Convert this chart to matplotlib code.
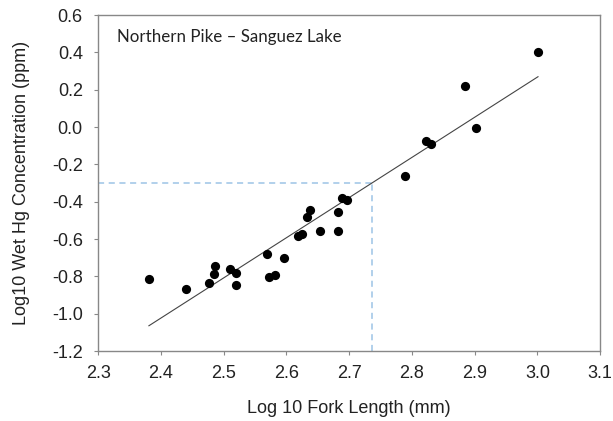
import numpy as np
import matplotlib.pyplot as plt

# Log10 fork length (mm) vs log10 wet Hg concentration (ppm), Northern Pike, Sanguez Lake
log_length = [2.381, 2.440, 2.476, 2.485, 2.486, 2.511, 2.520, 2.519, 2.569, 2.573,
              2.582, 2.597, 2.618, 2.625, 2.633, 2.637, 2.654, 2.682, 2.682, 2.688,
              2.696, 2.789, 2.823, 2.831, 2.885, 2.902, 3.001]
log_hg = [-0.816, -0.868, -0.837, -0.787, -0.746, -0.762, -0.784, -0.848, -0.682, -0.803,
          -0.793, -0.702, -0.584, -0.575, -0.482, -0.445, -0.555, -0.457, -0.555, -0.379,
          -0.391, -0.262, -0.073, -0.093, 0.220, -0.002, 0.400]

# regression line
fit_slope = 2.152
fit_intercept = -6.188
fit_range = [2.381, 3.001]

# reference level (0.5 ppm -> log10 = -0.3)
ref_y = -0.3
ref_x = (ref_y - fit_intercept) / fit_slope

xticks = [2.3, 2.4, 2.5, 2.6, 2.7, 2.8, 2.9, 3.0, 3.1]
yticks = [-1.2, -1.0, -0.8, -0.6, -0.4, -0.2, 0.0, 0.2, 0.4, 0.6]

plt.rcParams["font.family"] = ["Liberation Sans", "DejaVu Sans"]

fig = plt.figure(figsize=(6.13, 4.21), dpi=100)
ax = fig.add_axes([0.160, 0.166, 0.819, 0.798])

fx = np.array(fit_range)
ax.plot(fx, fit_slope * fx + fit_intercept, color="#444444", lw=0.8, zorder=2)

ax.plot([2.3, ref_x], [ref_y, ref_y], color="#9DC3E6", lw=1.1, ls=(0, (4, 3)), zorder=1)
ax.plot([ref_x, ref_x], [-1.2, ref_y], color="#9DC3E6", lw=1.1, ls=(0, (4, 3)), zorder=1)

ax.scatter(log_length, log_hg, s=44, color="black", zorder=3, linewidths=0)

ax.set_xlim(2.3, 3.1)
ax.set_ylim(-1.2, 0.6)
ax.set_xticks(xticks)
ax.set_yticks(yticks)
ax.set_xticklabels([f"{v:.1f}" for v in xticks])
ax.set_yticklabels([f"{v:.1f}" for v in yticks])
ax.tick_params(direction="out", length=3, width=0.8, color="#888888",
               labelsize=13, labelcolor="#222222")
ax.tick_params(axis="x", pad=7)
ax.tick_params(axis="y", pad=8)
for s in ax.spines.values():
    s.set_color("#888888")
    s.set_linewidth(1.0)

ax.set_xlabel("Log 10 Fork Length (mm)", fontsize=13, color="#222222", labelpad=13)
ax.set_ylabel("Log10 Wet Hg Concentration (ppm)", fontsize=13, color="#222222", labelpad=16)

ax.text(0.037, 0.935, "Northern Pike \u2013 Sanguez Lake", transform=ax.transAxes,
        fontsize=12.2, family=["Lato", "DejaVu Sans"], color="#222222", va="center")

fig.savefig("out.png", dpi=100)
